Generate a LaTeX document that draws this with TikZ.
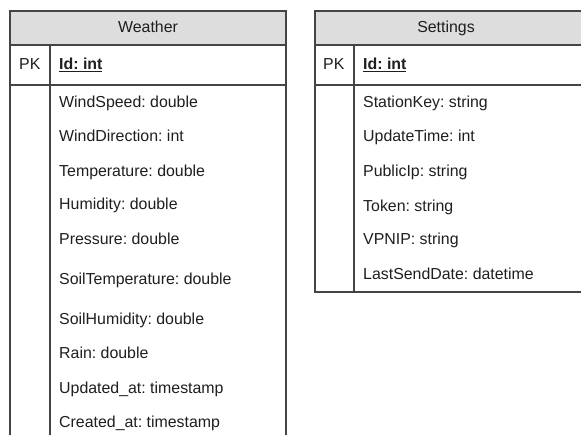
\documentclass[tikz,border=0pt]{standalone}
\usepackage{fontspec}
\setmainfont{Liberation Sans}
\usetikzlibrary{positioning}
\definecolor{tblline}{HTML}{444444}
\definecolor{tblhead}{HTML}{DDDDDD}
\definecolor{tbltext}{HTML}{1E1E1E}

\begin{document}
\frenchspacing
\begin{tikzpicture}[x=1pt, y=-1pt,
    frame/.style={draw=tblline, line width=1.4pt},
    head/.style={frame, fill=tblhead},
    title/.style={anchor=base, inner sep=0pt, text=tbltext, font=\fontsize{15.9}{17}\selectfont},
    field/.style={anchor=base west, inner sep=0pt, text=tbltext, font=\fontsize{15.9}{17}\selectfont}]
\useasboundingbox (0,0) rectangle (581,435);

% Weather table
\draw[head] (10,11) rectangle (286,45);
\node[title] (wtitle) at (148,33) {Weather};
\draw[frame] (10,45) -- (10,440);
\draw[frame] (286,45) -- (286,440);
\draw[frame] (50,45) -- (50,440);
\draw[frame] (10,85) -- (286,85);
\node[field] (wpk) at (19,70) {PK};
\node[field] (wid) at (59,70) {\underline{\textbf{Id: int}}};
\foreach \yy/\txt [count=\i] in {108/WindSpeed: double, 142/WindDirection: int,
    177/Temperature: double, 210/Humidity: double, 245/Pressure: double,
    285/SoilTemperature: double, 325/SoilHumidity: double, 359/Rain: double,
    394/Updated\_at: timestamp, 428/Created\_at: timestamp}
  \node[field] (w\i) at (59,\yy) {\txt};

% Settings table
\draw[head] (315,11) rectangle (584,45);
\node[title] (stitle) at (446,33) {Settings};
\draw[frame] (315,45) rectangle (584,292);
\draw[frame] (354,45) -- (354,292);
\draw[frame] (315,85) -- (584,85);
\node[field] (spk) at (323,70) {PK};
\node[field] (sid) at (363,70) {\underline{\textbf{Id: int}}};
\foreach \yy/\txt [count=\i] in {108/StationKey: string, 142/UpdateTime: int,
    177/PublicIp: string, 212/Token: string, 245/VPNIP: string,
    280/LastSendDate: datetime}
  \node[field] (s\i) at (363,\yy) {\txt};
\end{tikzpicture}
\end{document}
